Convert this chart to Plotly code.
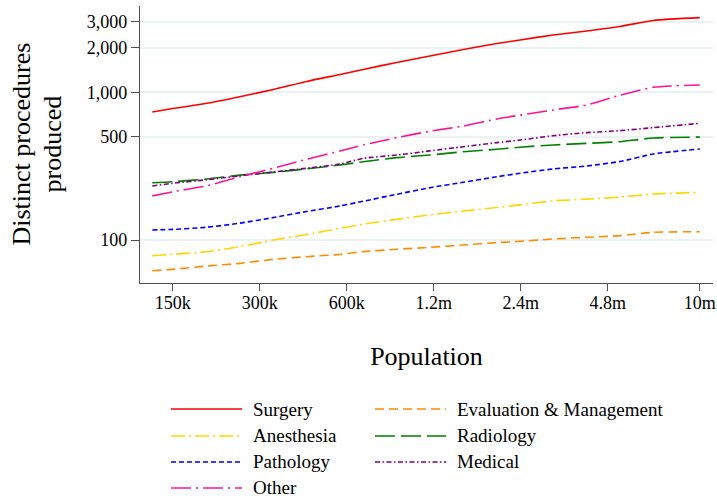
import plotly.graph_objects as go

# ---------------- data ----------------
population = [127500, 150000, 197000, 256000, 335000, 436000, 569000, 685000, 894000,
              1165000, 1520000, 1985000, 2390000, 3110000, 4060000, 5300000, 6900000, 10000000]

surgery = [735, 776, 842, 933, 1045, 1184, 1320, 1427, 1591,
           1761, 1949, 2140, 2261, 2443, 2601, 2790, 3063, 3200]
evaluation_management = [62, 63.3, 66.7, 69.5, 74, 77.1, 80, 83.4, 86.5,
                         89.2, 92.5, 96, 98, 101.6, 104.3, 107, 112.7, 113.8]
anesthesia = [78.3, 80, 83.4, 90.1, 100, 109, 120, 128, 138,
              148, 157, 166, 173, 184, 189, 195, 205, 210]
radiology = [244, 248, 259, 275, 287, 303, 322, 339, 361,
             376, 396, 411, 425, 440, 451, 463, 490, 497]
pathology = [117, 118, 122, 130, 142, 156, 170, 183, 204,
             226, 246, 268, 283, 303, 317, 340, 382, 413]
medical = [232, 242, 256, 272, 289, 306, 327, 357, 376,
           401, 428, 456, 475, 508, 533, 550, 576, 617]
other = [199, 212, 233, 268, 306, 352, 400, 440, 493,
         545, 591, 660, 700, 759, 820, 955, 1081, 1120]

x_tickvals = [150000, 300000, 600000, 1200000, 2400000, 4800000, 10000000]
x_ticktext = ["150k", "300k", "600k", "1.2m", "2.4m", "4.8m", "10m"]
y_tickvals = [100, 500, 1000, 2000, 3000]
y_ticktext = ["100", "500", "1,000", "2,000", "3,000"]
y_title_lines = ["Distinct procedures", "produced"]
x_title = "Population"

series = [
    ("Surgery", surgery, "#ff0000", "solid"),
    ("Evaluation & Management", evaluation_management, "#ff8c00", "9px,5px"),
    ("Anesthesia", anesthesia, "#ffd700", "14px,4px,2px,4px"),
    ("Radiology", radiology, "#008000", "20px,6px"),
    ("Pathology", pathology, "#0000ff", "5px,3px"),
    ("Medical", medical, "#800080", "5px,2.5px,1.5px,2.5px"),
    ("Other", other, "#ff1493", "20px,5px,2px,5px"),
]

FONT = "Liberation Serif"
W, H = 717, 499
ML, MR, MT, MB = 140, 4, 6, 216

fig = go.Figure()
for name, vals, color, dash in series:
    fig.add_trace(go.Scatter(
        x=population, y=vals, mode="lines", name=name,
        line=dict(color=color, width=1.6, dash=dash, shape="spline", smoothing=0.6),
        showlegend=False,
    ))

# ------------- manual legend (2 columns, Stata style) -------------
plot_w = W - ML - MR
plot_h = H - MT - MB


def px2paper_x(px):
    return (px - ML) / plot_w


def py2paper_y(py):
    return (H - MB - py) / plot_h


legend_layout = [  # (series index, column, row)
    (0, 0, 0), (1, 1, 0),
    (2, 0, 1), (3, 1, 1),
    (4, 0, 2), (5, 1, 2),
    (6, 0, 3),
]
col_x = [171, 375]
row_y = [409, 436, 462, 488]
key_len = 71
gap = 9
shapes = []
annotations = []
for idx, col, row in legend_layout:
    name, _, color, dash = series[idx]
    x0 = col_x[col]
    y = row_y[row]
    shapes.append(dict(type="line", xref="paper", yref="paper",
                       x0=px2paper_x(x0), x1=px2paper_x(x0 + key_len),
                       y0=py2paper_y(y), y1=py2paper_y(y),
                       line=dict(color=color, width=1.6, dash=dash)))
    annotations.append(dict(xref="paper", yref="paper",
                            x=px2paper_x(x0 + key_len + gap), y=py2paper_y(y),
                            xanchor="left", yanchor="middle", showarrow=False,
                            text=name, font=dict(family=FONT, size=19, color="black")))

# y-axis title: two lines, rotated
for line_text, cx in zip(y_title_lines, [21, 52]):
    annotations.append(dict(xref="paper", yref="paper",
                            x=px2paper_x(cx), y=py2paper_y(144.5),
                            xanchor="center", yanchor="middle", showarrow=False,
                            textangle=-90, text=line_text,
                            font=dict(family=FONT, size=26, color="black")))

fig.update_layout(
    width=W, height=H,
    margin=dict(l=ML, r=MR, t=MT, b=MB, autoexpand=False),
    paper_bgcolor="white", plot_bgcolor="white",
    font=dict(family=FONT, color="black"),
    shapes=shapes, annotations=annotations,
    showlegend=False,
)
fig.update_xaxes(
    type="log", range=[5.063, 7.0457],
    tickvals=x_tickvals, ticktext=x_ticktext,
    tickfont=dict(family=FONT, size=18, color="black"),
    showgrid=False, zeroline=False,
    showline=True, linecolor="#505050", linewidth=1.2,
    ticks="outside", ticklen=7, tickcolor="#505050", tickwidth=1.2,
    ticklabelstandoff=-4,
    title=dict(text=x_title, font=dict(family=FONT, size=26, color="black"), standoff=35),
    automargin=False,
)
fig.update_yaxes(
    type="log", range=[1.709, 3.584],
    tickvals=y_tickvals, ticktext=y_ticktext,
    tickfont=dict(family=FONT, size=18, color="black"),
    showgrid=True, gridcolor="#eaf2f3", gridwidth=1.5, zeroline=False,
    showline=True, linecolor="#505050", linewidth=1.2,
    ticks="outside", ticklen=8, tickcolor="#505050", tickwidth=1.2,
    automargin=False,
)

fig.write_html("out.html", config={"displayModeBar": False},
               post_script="document.body.style.margin='0';")
